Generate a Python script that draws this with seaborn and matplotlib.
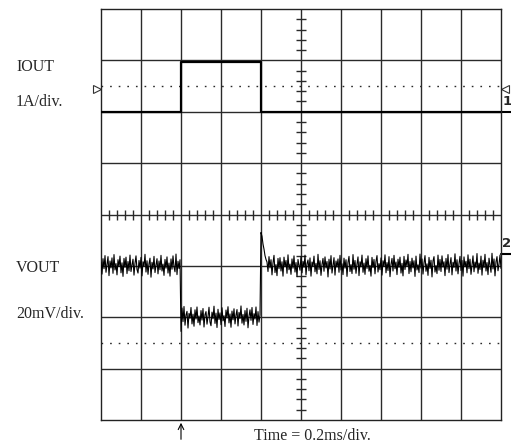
import numpy as np
import pandas as pd
import matplotlib
matplotlib.use("Agg")
import matplotlib.pyplot as plt
import seaborn as sns

# ---------------- data ----------------
# Channel 1: output current step (A) vs time (ms)
iout_t_ms = [0.0, 0.40, 0.40, 0.80, 0.80, 2.0]
iout_a = [0.0, 0.0, 0.97, 0.97, 0.0, 0.0]

# Channel 2: output voltage deviation (mV)
vout_step_t_ms = [0.40, 0.80]
vout_levels_mv = [0.0, -20.0, 0.0]
vout_sample_ms = 0.005
vout_ripple_mv = [
    1.5, -3.2, 2.8, -1.1, 4.0, -2.5, 0.6, 3.6, -3.8, 1.9, -0.8, 3.1, -2.9, 4.4, -1.6, 0.9, -3.5, 2.4, -0.3, 3.8,
    -2.7, 1.2, -4.1, 2.9, -0.6, 3.4, -3.0, 1.7, -1.9, 4.2, -2.2, 0.4, 2.6, -3.6, 1.0, 3.9, -1.4, -2.8, 2.1, -0.9,
    3.3, -3.9, 1.6, -0.2, 4.5, -2.4, 2.0, -3.3, 0.8, 3.0, -4.4, 1.4, -1.2, 3.7, -2.6, 0.3, 2.8, -3.1, 1.9, -1.5,
    4.1, -2.0, 0.7, -3.7, 2.5, -0.9, 3.5, -2.8, 1.1, -4.0, 2.7, -1.3, 3.9, -0.5, -2.3, 4.6, -3.4, 1.8, -1.0, 2.4,
    -5.5, 3.6, -1.7, 4.2, -3.1, 0.9, 2.3, -4.2, 1.5, -0.4, 3.8, -2.6, 1.2, -3.5, 2.9, -0.7, 4.0, -2.1, 0.5, -3.0,
    2.6, -1.1, 3.4, -3.8, 1.0, 2.2, -2.7, 0.2, 3.9, -1.8, -3.3, 2.0, -0.6, 4.3, -2.4, 1.6, -4.0, 3.1, -0.9, 1.7,
    -2.9, 3.7, -1.4, 0.6, -3.6, 2.8, -0.3, 4.1, -2.2, 1.3, -3.9, 2.4, -1.0, 3.3, -2.6, 0.8, 3.0, -3.4, 1.9, -0.5,
    4.4, -2.3, 1.1, -3.0, 2.6, -1.6, 3.5, -4.1, 0.4, 2.9, -1.2, 3.8, -2.8, 1.4, -0.7, 4.0, -3.2, 2.2, -1.9, 0.9,
    13.0, 11.5, 8.5, 6.5, 4.0, 2.5, 1.5, -2.2, 3.6, -0.8, 2.4, -3.5, 1.2, 4.1, -2.6, 0.5, -3.8, 2.9, -1.1, 3.2,
    -2.0, 1.6, -4.0, 3.4, -0.4, 2.1, -2.9, 4.3, -1.5, 0.7, -3.3, 2.7, -0.9, 3.9, -2.4, 1.3, -4.2, 2.5, 0.2, -1.7,
    3.6, -2.7, 1.8, -0.6, 4.2, -3.5, 0.9, 2.3, -1.9, 3.1, -4.0, 1.5, -0.2, 3.8, -2.3, 1.0, -3.1, 4.5, -1.4, 2.0,
    -3.7, 0.6, 2.9, -2.1, 3.5, -0.8, 1.7, -4.3, 2.6, -1.2, 4.0, -2.8, 0.3, 3.2, -3.6, 1.9, -0.5, 2.7, -2.5, 4.1,
    -1.6, 0.8, -3.4, 3.0, -0.9, 2.4, -4.1, 1.4, 3.7, -2.2, 0.5, -3.0, 4.4, -1.3, 2.1, -2.9, 0.7, 3.5, -3.8, 1.6,
    -0.4, 4.2, -2.5, 1.1, -3.3, 2.8, -1.0, 3.9, -2.1, 0.2, -4.0, 3.3, -0.7, 2.5, -3.1, 1.8, 4.0, -2.4, 0.9, -1.5,
    3.1, -3.6, 2.0, -0.3, 4.3, -2.7, 1.3, -1.8, 3.6, -4.2, 0.6, 2.9, -2.0, 4.1, -1.1, 1.5, -3.4, 2.6, -0.6, 3.4,
    -2.8, 1.0, -3.9, 3.7, -1.4, 2.3, -0.2, 4.5, -3.0, 1.7, -2.3, 3.0, -0.8, 2.0, -4.1, 3.8, -1.6, 0.4, -2.6, 4.6,
    -0.9, 2.7, -3.2, 1.2, 4.0, -2.1, 0.8, -3.7, 3.3, -1.0, 2.2, -4.3, 1.9, 3.6, -2.4, 0.1, -3.0, 4.2, -1.7, 2.5,
    -2.2, 3.9, -0.5, 1.6, -3.8, 2.9, -1.3, 4.4, -2.6, 0.7, 3.2, -3.5, 1.4, -0.6, 4.7, -2.0, 2.4, -3.1, 0.9, 3.7,
    -1.8, 2.1, -4.0, 3.5, -0.4, 1.8, -2.7, 4.3, -1.1, 2.6, -3.3, 0.5, 3.9, -2.3, 1.5, -0.8, 4.8, -2.9, 1.1, -1.4,
    3.8, -3.6, 2.2, -0.7, 4.5, -2.0, 1.3, -3.4, 3.0, 0.4, -2.5, 4.9, -1.2, 2.7, -3.9, 1.6, 3.6, -1.9, 0.6, 4.2,
    -1.0,
]

# scope settings
time_per_div_ms = 0.2
amp_per_div = 1.0
mv_per_div = 20.0
ch1_offset_div = 2.0
ch2_offset_div = -1.0
n_xdiv, n_ydiv = 10, 8

# ---------------- build frames ----------------
iout_df = pd.DataFrame({
    "x": np.array(iout_t_ms) / time_per_div_ms,
    "y": ch1_offset_div + np.array(iout_a) / amp_per_div,
})
vt = np.round(np.arange(len(vout_ripple_mv)) * vout_sample_ms, 4)
level = np.where(vt < vout_step_t_ms[0], vout_levels_mv[0],
                 np.where(vt < vout_step_t_ms[1], vout_levels_mv[1], vout_levels_mv[2]))
vout_df = pd.DataFrame({
    "x": vt / time_per_div_ms,
    "y": ch2_offset_div + (level + np.array(vout_ripple_mv)) / mv_per_div,
})

# ---------------- figure ----------------
sns.set_style("white")
plt.rcParams["font.family"] = ["Liberation Serif", "DejaVu Serif"]

fig = plt.figure(figsize=(5.11, 4.46), dpi=100)
ax = fig.add_axes([101 / 511, 26 / 446, 400 / 511, 411 / 446])
ax.set_xlim(0, n_xdiv)
ax.set_ylim(-n_ydiv / 2, n_ydiv / 2)
ax.set_xticks([])
ax.set_yticks([])
for s in ax.spines.values():
    s.set_color("#222222")
    s.set_linewidth(1.0)

gc = "#2a2a2a"
for i in range(1, n_xdiv):
    ax.axvline(i, color=gc, lw=1.0, zorder=1)
for j in range(-3, 4):
    ax.axhline(j, color=gc, lw=1.0, zorder=1)
for yd in (2.5, -2.5):
    ax.axhline(yd, color=gc, lw=1.0, ls=(0, (1.2, 5.0)), zorder=1)

# center graticule minor ticks
xt = [k * 0.2 for k in range(1, 50) if k % 5 != 0]
yt = [-4 + k * 0.2 for k in range(1, 40) if k % 5 != 0]
ax.plot(xt, [0] * len(xt), ls="none", marker="|", ms=7, mew=1.0, color=gc, zorder=2)
ax.plot([5] * len(yt), yt, ls="none", marker="_", ms=7, mew=1.0, color=gc, zorder=2)

# traces
sns.lineplot(data=iout_df, x="x", y="y", ax=ax, color="black", lw=1.6,
             estimator=None, sort=False, zorder=3)
sns.lineplot(data=vout_df, x="x", y="y", ax=ax, color="black", lw=0.8,
             estimator=None, sort=False, zorder=3)
ax.set_xlabel("")
ax.set_ylabel("")

# trigger markers
ax.plot([-0.1], [2.44], marker=">", ms=6, mfc="white", mec="#333333", mew=0.8, clip_on=False)
ax.plot([10.11], [2.44], marker="<", ms=6, mfc="white", mec="#333333", mew=0.8, clip_on=False)

# channel markers
ax.plot([10.0, 10.25], [2.0, 2.0], color="black", lw=1.5, clip_on=False)
ax.text(10.15, 2.2, "1", ha="center", va="center", fontsize=9.5, fontweight="bold",
        family="DejaVu Sans")
ax.plot([10.0, 10.25], [-0.77, -0.77], color="black", lw=1.5, clip_on=False)
ax.text(10.15, -0.57, "2", ha="center", va="center", fontsize=9.5, fontweight="bold",
        family="DejaVu Sans")

# trigger position arrow
ax.annotate("", xy=(2.0, -4.0), xytext=(2.0, -4.43),
            arrowprops=dict(arrowstyle="->", lw=0.8, color="black"),
            annotation_clip=False)

# labels
fs = 11.5
fig.text(16 / 511, 1 - 70.7 / 446, "IOUT", fontsize=fs, va="baseline")
fig.text(16 / 511, 1 - 106 / 446, "1A/div.", fontsize=fs, va="baseline")
fig.text(16 / 511, 1 - 271.5 / 446, "VOUT", fontsize=fs, va="baseline")
fig.text(16 / 511, 1 - 318 / 446, "20mV/div.", fontsize=fs, va="baseline")
fig.text(312 / 511, 1 - 440 / 446, "Time = 0.2ms/div.", fontsize=fs, ha="center",
         va="baseline")

fig.savefig("out.png", dpi=100)
